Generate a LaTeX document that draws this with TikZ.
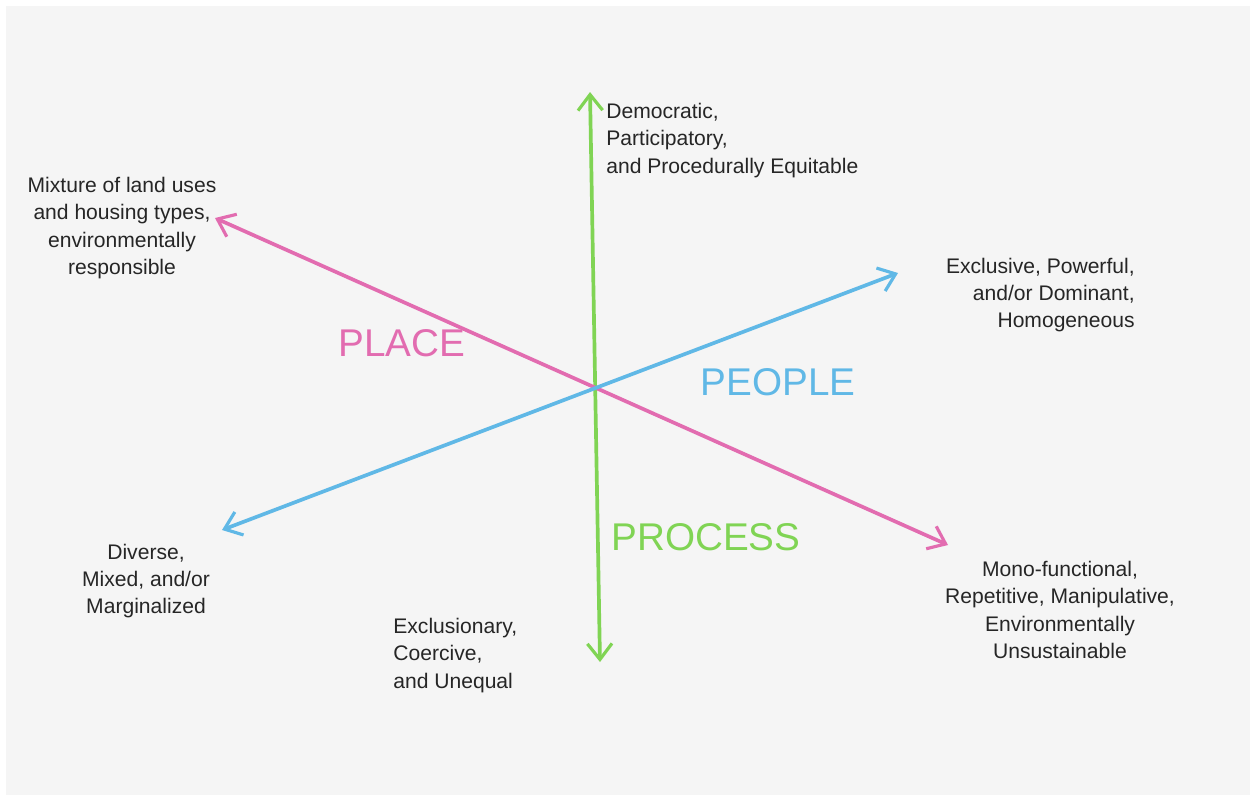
\documentclass[tikz,border=0pt]{standalone}
\usepackage{fontspec}
\setmainfont{Liberation Sans}
\usetikzlibrary{arrows.meta}

\definecolor{placepink}{RGB}{226,108,176}
\definecolor{peopleblue}{RGB}{96,184,230}
\definecolor{processgreen}{RGB}{128,212,84}
\definecolor{paper}{RGB}{245,245,245}

\begin{document}
\begin{tikzpicture}[x=0.02cm,y=-0.02cm,
axis/.style={line width=2.1pt,line cap=round,{Straight Barb[length=9pt,width=14pt,line width=1.8pt]}-{Straight Barb[length=9pt,width=14pt,line width=1.8pt]}},
note/.style={font=\fontsize{12}{15.5}\selectfont,text=black!85,inner sep=0pt},
title/.style={font=\fontsize{22}{24}\selectfont,inner sep=0pt}]

\useasboundingbox (0,0) rectangle (1250,799);
\fill[paper] (6,6) rectangle (1250,795);

% axes
\coordinate (ProcTop) at (590,92);
\coordinate (ProcBot) at (600,662);
\coordinate (PlaceA) at (215,218);
\coordinate (PlaceB) at (948,545);
\coordinate (PeopA) at (222,530);
\coordinate (PeopB) at (898,273);

\draw[axis,processgreen] (ProcBot)--(ProcTop);
\draw[axis,placepink] (PlaceB)--(PlaceA);
\draw[axis,peopleblue] (PeopA)--(PeopB);

% names of the axes
\node[title,text=placepink] (Place) at (402,343) {PLACE};
\node[title,text=peopleblue] (People) at (778,382) {PEOPLE};
\node[title,text=processgreen] (Process) at (706,537) {PROCESS};

% ends
\node[note,align=center] (Mixture) at (122,228) {Mixture of land uses\\and housing types,\\environmentally\\responsible};
\node[note,align=left,anchor=north west] (Democratic) at (606,103) {Democratic,\\Participatory,\\and Procedurally Equitable};
\node[note,align=right,anchor=east] (Exclusive) at (1135,295) {Exclusive, Powerful,\\and/or Dominant,\\Homogeneous};
\node[note,align=center] (Diverse) at (146,581) {Diverse,\\Mixed, and/or\\Marginalized};
\node[note,align=left,anchor=north west] (Exclusionary) at (393,618) {Exclusionary,\\Coercive,\\and Unequal};
\node[note,align=center] (Mono) at (1060,610) {Mono-functional,\\Repetitive, Manipulative,\\Environmentally\\Unsustainable};

\end{tikzpicture}
\end{document}
